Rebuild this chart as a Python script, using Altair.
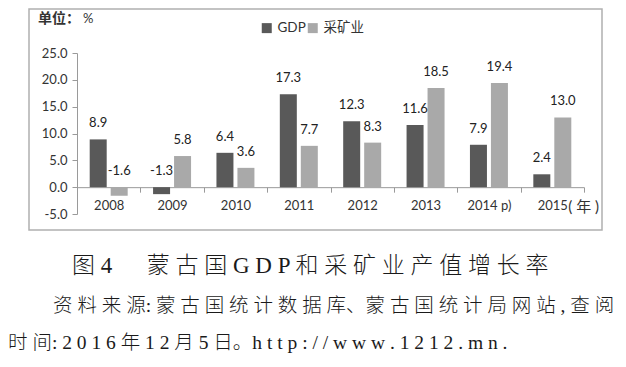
import altair as alt
import pandas as pd

# ---- data ----
years = ["2008", "2009", "2010", "2011", "2012", "2013", "2014 p)", "2015"]
gdp = [8.9, -1.3, 6.4, 17.3, 12.3, 11.6, 7.9, 2.4]
mining = [-1.6, 5.8, 3.6, 7.7, 8.3, 18.5, 19.4, 13.0]
series = ["GDP", "采矿业"]
colors = ["#595959", "#a9a9a9"]
y_ticks = [-5, 0, 5, 10, 15, 20, 25]

unit_label = "单位："
unit_sign = "%"
year_unit = "( 年 )"
caption1 = "图 4 　 蒙 古 国 G D P 和 采 矿 业 产 值 增 长 率"
caption2 = "资 料 来 源: 蒙 古 国 统 计 数 据 库、蒙 古 国 统 计 局 网 站 , 查 阅"
caption3 = "时 间: 2 0 1 6 年 1 2 月 5 日。h t t p : / / w w w . 1 2 1 2 . m n ."

rows = []
for y, g, m in zip(years, gdp, mining):
    rows.append({"year": y, "series": series[0], "value": g})
    rows.append({"year": y, "series": series[1], "value": m})
df = pd.DataFrame(rows)
one = pd.DataFrame({"k": [0]})
unit_df = pd.DataFrame({"year": [years[-1]], "v": [0], "t": [year_unit]})

LAT = "Lato, Noto Sans CJK SC"
CJK_SERIF = "Liberation Serif, Noto Sans CJK SC"

xscale = alt.Scale(paddingInner=0, paddingOuter=0)
xaxis = alt.Axis(offset=-26.83, tickBand="extent", tickSize=5,
                 labelAngle=0, labelFontSize=13, labelFont=LAT,
                 labelColor="#333333", labelPadding=7,
                 labelOverlap=False,
                 domainColor="#9a9a9a", tickColor="#9a9a9a")
xoscale = alt.Scale(paddingInner=0, paddingOuter=0.51)
yscale = alt.Scale(domain=[-5, 25], nice=False, zero=False)
yaxis = alt.Axis(values=y_ticks, format=".1f", tickSize=5,
                 labelExpr="replace(datum.label, '\u2212', '-')",
                 labelOverlap=False, labelSeparation=0,
                 labelFontSize=13, labelFont=LAT, labelColor="#333333",
                 labelPadding=5, grid=False,
                 domainColor="#9a9a9a", tickColor="#9a9a9a")

frame = alt.Chart(one).mark_rect(fill="transparent", stroke="#b0b0b0",
                                 strokeWidth=1.5).encode(
    x=alt.value(-48), x2=alt.value(525), y=alt.value(-44), y2=alt.value(177))

bars = alt.Chart(df).mark_bar(size=17).encode(
    x=alt.X("year:N", sort=years, title=None, scale=xscale, axis=xaxis),
    xOffset=alt.XOffset("series:N", sort=series, scale=xoscale),
    y=alt.Y("value:Q", title=None, scale=yscale, axis=yaxis),
    color=alt.Color("series:N", sort=series,
                    scale=alt.Scale(domain=series, range=colors),
                    legend=alt.Legend(orient="none", legendX=183, legendY=-32,
                                      direction="horizontal", title=None,
                                      symbolType="square", symbolSize=100,
                                      symbolStrokeWidth=0,
                                      labelFontSize=13.5, labelFont=LAT,
                                      labelColor="#333333", labelOffset=4,
                                      columnPadding=0)))

labels = alt.Chart(df).transform_calculate(
    ly="max(datum.value, 0)",
    lbl="replace(format(datum.value, '.1f'), '\u2212', '-')"
).mark_text(dy=-16, fontSize=13, font=LAT, color="#222222",
            baseline="middle").encode(
    x=alt.X("year:N", sort=years, title=None, scale=xscale, axis=xaxis),
    xOffset=alt.XOffset("series:N", sort=series, scale=xoscale),
    y=alt.Y("ly:Q", title=None, scale=yscale, axis=yaxis),
    text=alt.Text("lbl:N"))

yr_unit = alt.Chart(unit_df).mark_text(dx=16, dy=20, align="left",
                                       baseline="middle", fontSize=15,
                                       font=LAT, color="#333333").encode(
    x=alt.X("year:N", sort=years, title=None, scale=xscale, axis=xaxis),
    y=alt.Y("v:Q", title=None, scale=yscale, axis=yaxis),
    text="t:N")

unit1 = alt.Chart(one).mark_text(align="left", baseline="middle", fontSize=14,
                                 fontWeight="bold", font="Noto Sans CJK SC",
                                 color="#333333").encode(
    x=alt.value(-39), y=alt.value(-34), text=alt.value(unit_label))
unit2 = alt.Chart(one).mark_text(align="left", baseline="middle", fontSize=13,
                                 font=LAT, color="#333333").encode(
    x=alt.value(6), y=alt.value(-34), text=alt.value(unit_sign))

cap1 = alt.Chart(one).mark_text(align="left", baseline="middle", fontSize=23,
                                font=CJK_SERIF, fontWeight=300,
                                color="#1a1a1a").encode(
    x=alt.value(-5), y=alt.value(213), text=alt.value(caption1))
cap2 = alt.Chart(one).mark_text(align="left", baseline="middle", fontSize=19.5,
                                font=CJK_SERIF, fontWeight=300,
                                color="#1a1a1a").encode(
    x=alt.value(-24), y=alt.value(253), text=alt.value(caption2))
cap3 = alt.Chart(one).mark_text(align="left", baseline="middle", fontSize=19.5,
                                font=CJK_SERIF, fontWeight=300,
                                color="#1a1a1a").encode(
    x=alt.value(-69), y=alt.value(290), text=alt.value(caption3))

chart = alt.layer(frame, bars, labels, yr_unit, unit1, unit2, cap1, cap2, cap3
                  ).properties(
    width=507, height=161,
    autosize=alt.AutoSizeParams(type="none"),
    padding={"left": 69, "top": 45, "right": 34, "bottom": 140},
    background="white",
).configure_view(stroke=None).configure_axisY(labelOverlap=False)

chart.save("out.html", embed_options={"renderer": "svg", "actions": False})
